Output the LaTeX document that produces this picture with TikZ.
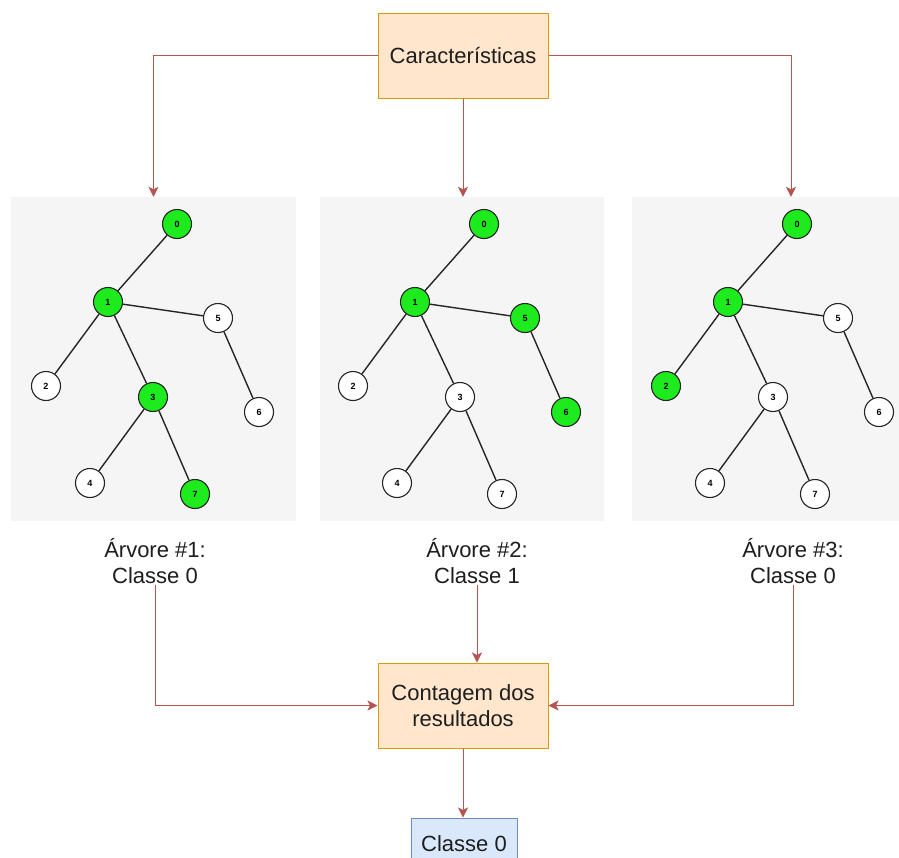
\documentclass[tikz,border=0pt]{standalone}
\usepackage{fontspec}
\setmainfont{Liberation Sans}
\usetikzlibrary{arrows.meta}

\definecolor{stepfill}{HTML}{FFE6CC}
\definecolor{stepline}{HTML}{D79B00}
\definecolor{flowline}{HTML}{B85450}
\definecolor{resfill}{HTML}{DAE8FC}
\definecolor{resline}{HTML}{6C8EBF}
\definecolor{panelbg}{HTML}{F5F5F5}
\definecolor{hitgreen}{HTML}{1EEB1E}
\definecolor{inktext}{HTML}{1E1E1E}

\tikzset{
  bigtext/.style={font=\fontsize{22}{25.5}\selectfont, text=inktext},
  stepbox/.style={bigtext, draw=stepline, fill=stepfill, line width=1pt,
    minimum width=170pt, minimum height=85pt, align=center, inner sep=0pt},
  resbox/.style={bigtext, draw=resline, fill=resfill, line width=1pt,
    minimum width=106pt, minimum height=52pt, inner sep=0pt},
  panelbox/.style={fill=panelbg, draw=none, minimum height=324pt, inner sep=0pt},
  treelabel/.style={bigtext, align=center, inner sep=1pt},
  flow/.style={draw=flowline, line width=1pt,
    -{Stealth[length=10pt, width=10pt, inset=2.5pt]}},
  tn/.style={circle, draw=black!85, line width=1.1pt, minimum size=29pt, inner sep=0pt,
    font=\fontsize{9}{9}\selectfont\bfseries, fill=white},
  hit/.style={tn, fill=hitgreen},
  branch/.style={draw=black!85, line width=1.4pt},
}

% one decision tree; #1 = prefix, #2..#9 = styles of nodes 0..7
\newcommand{\decisiontree}[9]{%
  \node[#2] (#1n0) at (177,224) {0};
  \node[#3] (#1n1) at (108,302) {1};
  \node[#4] (#1n2) at (46,386) {2};
  \node[#5] (#1n3) at (153,397) {3};
  \node[#6] (#1n4) at (90,483) {4};
  \node[#7] (#1n5) at (218,318) {5};
  \node[#8] (#1n6) at (259,412) {6};
  \node[#9] (#1n7) at (195,494) {7};
  \draw[branch] (#1n0) -- (#1n1);
  \draw[branch] (#1n1) -- (#1n2);
  \draw[branch] (#1n1) -- (#1n3);
  \draw[branch] (#1n1) -- (#1n5);
  \draw[branch] (#1n3) -- (#1n4);
  \draw[branch] (#1n3) -- (#1n7);
  \draw[branch] (#1n5) -- (#1n6);
}

\begin{document}
\begin{tikzpicture}[x=1pt, y=-1pt]
  \clip (0,0) rectangle (899,857);
  \fill[white] (0,0) rectangle (899,857);

  % background panels of the three trees
  \node[panelbox, minimum width=285pt] (panel1) at (153.5,359) {};
  \node[panelbox, minimum width=284pt] (panel2) at (462,359) {};
  \node[panelbox, minimum width=318pt] (panel3) at (791,359) {};

  % trees
  \decisiontree{ta}{hit}{hit}{tn}{hit}{tn}{tn}{tn}{hit}
  \begin{scope}[xshift=307pt]
    \decisiontree{tb}{hit}{hit}{tn}{tn}{tn}{hit}{hit}{tn}
  \end{scope}
  \begin{scope}[xshift=620pt]
    \decisiontree{tc}{hit}{hit}{hit}{tn}{tn}{tn}{tn}{tn}
  \end{scope}

  % boxes
  \node[stepbox] (feat) at (463,55.5) {Características};
  \node[stepbox] (count) at (463,705.5) {Contagem dos\\resultados};
  \node[resbox] (result) at (464,844) {Classe 0};

  % tree labels
  \node[treelabel] (lab1) at (155,561) {Árvore \#1:\\Classe 0};
  \node[treelabel] (lab2) at (477,561) {Árvore \#2:\\Classe 1};
  \node[treelabel] (lab3) at (793,561) {Árvore \#3:\\Classe 0};

  % connectors
  \draw[flow] (feat.west) -| (panel1.north);
  \draw[flow] (feat.south) -- (panel2.north -| feat.south);
  \draw[flow] (feat.east) -| (panel3.north);
  \draw[flow] (lab1.south) |- (count.west);
  \draw[flow] (lab2.south) -- (lab2.south |- count.north);
  \draw[flow] (lab3.south) |- (count.east);
  \draw[flow] (count.south) -- (count.south |- result.north);
\end{tikzpicture}
\end{document}
